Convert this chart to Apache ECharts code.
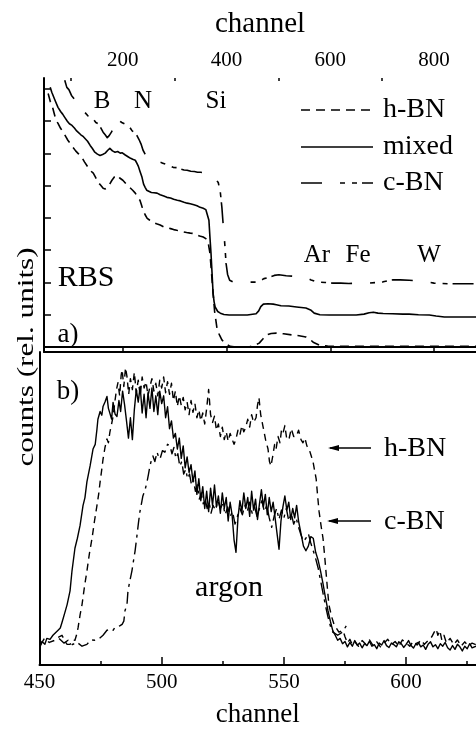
<!DOCTYPE html>
<html>
<head>
<meta charset="utf-8">
<script src="https://cdn.jsdelivr.net/npm/echarts@6/dist/echarts.min.js"></script>
<style>
  html, body { margin: 0; padding: 0; background: #fff; }
  #chart { width: 476px; height: 729px; }
</style>
</head>
<body>
<div id="chart"></div>
<script>
// ---- (a) RBS spectra: [channel, counts in rel. units] ----
const rbsHBN = [[56,7.86],[60,7.62],[65,7.40],[70,7.10],[75,6.93],[80,6.78],[85,6.66],[90,6.52],[94,6.41],[99,6.30],[104,6.19],[109,6.08],[115,5.98],[121,5.88],[126,5.74],[133,5.57],[138,5.46],[143,5.39],[148,5.24],[152,5.11],[157,5.02],[162,4.92],[166,4.90],[170,4.95],[175,5.06],[179,5.17],[184,5.28],[189,5.33],[194,5.24],[200,5.17],[206,5.06],[211,4.98],[214,4.95],[219,4.86],[224,4.77],[228,4.66],[233,4.55],[236,4.40],[239,4.24],[243,4.10],[247,3.99],[252,3.93],[258,3.87],[265,3.82],[272,3.78],[279,3.72],[285,3.70],[292,3.67],[298,3.64],[304,3.62],[311,3.60],[317,3.57],[323,3.55],[330,3.53],[336,3.52],[342,3.48],[348,3.44],[355,3.41],[360,3.36],[364,3.31],[366,3.10],[368,2.91],[371,2.30],[374,1.67],[377,1.10],[382,0.53],[387,0.35],[391,0.22],[398,0.10],[407,0.02],[418,0.00],[443,0.00],[452,0.04],[463,0.12],[470,0.25],[476,0.37],[486,0.42],[496,0.43],[510,0.41],[528,0.37],[540,0.35],[553,0.31],[560,0.25],[567,0.15],[579,0.06],[595,0.03],[611,0.02],[650,0.02],[700,0.02],[750,0.02],[800,0.02],[881,0.02]];
const rbsMixed = [[60,8.05],[63,7.90],[65,7.86],[70,7.62],[75,7.43],[80,7.30],[84,7.22],[88,7.12],[93,7.00],[97,6.92],[102,6.87],[107,6.78],[111,6.70],[114,6.66],[119,6.58],[124,6.52],[127,6.47],[132,6.38],[137,6.25],[141,6.16],[146,6.04],[151,5.98],[156,5.94],[161,5.97],[166,6.01],[171,6.10],[175,6.16],[180,6.08],[185,6.04],[190,6.06],[195,6.01],[199,6.02],[204,5.96],[210,5.90],[215,5.85],[219,5.82],[224,5.79],[227,5.70],[230,5.60],[233,5.45],[237,5.26],[240,5.05],[243,4.95],[246,4.86],[249,4.80],[255,4.79],[260,4.78],[266,4.77],[272,4.72],[279,4.68],[285,4.64],[292,4.62],[298,4.58],[305,4.55],[311,4.53],[318,4.49],[324,4.46],[330,4.44],[337,4.41],[343,4.38],[349,4.33],[355,4.30],[360,4.26],[363,4.22],[366,3.93],[368,3.40],[370,2.91],[372,2.30],[374,1.67],[376,1.40],[378,1.24],[383,1.10],[388,1.05],[395,1.01],[405,0.99],[418,0.99],[440,0.99],[457,1.03],[462,1.12],[466,1.25],[471,1.33],[480,1.34],[490,1.33],[496,1.31],[505,1.28],[520,1.27],[535,1.24],[553,1.21],[562,1.15],[569,1.05],[580,1.00],[598,0.99],[620,0.99],[650,0.99],[665,1.02],[675,1.06],[683,1.08],[692,1.05],[702,1.04],[720,1.03],[740,1.02],[752,1.02],[770,1.00],[791,0.99],[804,0.96],[820,0.93],[850,0.93],[881,0.93]];
const rbsCBN = [[88,8.27],[92,8.05],[96,7.98],[101,7.80],[106,7.70],[110,7.62],[114,7.50],[118,7.42],[123,7.30],[128,7.25],[133,7.16],[138,7.12],[143,7.07],[148,6.96],[153,6.92],[158,6.78],[162,6.66],[166,6.58],[170,6.49],[174,6.56],[178,6.66],[182,6.80],[186,7.00],[189,7.10],[193,7.02],[198,6.96],[203,6.92],[208,6.88],[213,6.82],[218,6.70],[222,6.66],[227,6.56],[231,6.44],[235,6.30],[239,6.10],[243,5.98],[247,5.88],[252,5.84],[258,5.80],[264,5.76],[270,5.74],[277,5.70],[284,5.66],[290,5.62],[297,5.57],[304,5.56],[311,5.52],[318,5.49],[324,5.48],[331,5.45],[338,5.44],[344,5.42],[350,5.42],[356,5.40],[362,5.39],[367,5.36],[372,5.30],[376,5.26],[380,5.18],[384,5.10],[388,4.80],[391,4.33],[393,3.90],[395,3.53],[397,3.10],[399,2.60],[402,2.25],[406,2.07],[412,2.02],[418,2.01],[440,2.01],[457,2.01],[465,2.05],[472,2.12],[482,2.16],[492,2.22],[501,2.24],[515,2.21],[534,2.19],[545,2.18],[553,2.16],[563,2.08],[573,2.02],[590,2.00],[605,1.98],[620,1.98],[636,1.97],[655,1.98],[675,1.98],[690,2.00],[702,2.02],[712,2.06],[721,2.08],[735,2.08],[752,2.07],[770,2.05],[785,2.02],[800,1.98],[829,1.96],[850,1.96],[881,1.96]];

// ---- (b) argon signal: [channel, counts in rel. units] ----
const argonHBN = [[450.5,6.5],[452,8.5],[454,7.2],[456.3,7.9],[458,9.0],[459.2,9.5],[460.5,7.5],[461.3,6.6],[462.5,6.6],[463.5,8.0],[464.5,7.9],[465.3,10.0],[465.8,12.0],[466.6,16.0],[467.4,19.3],[468.4,25.0],[469.4,30.0],[470.4,35.5],[471.5,40.5],[472.5,46.0],[473.5,50.9],[474.2,54.5],[474.8,58.5],[475.4,62.0],[476,65.8],[476.8,69.5],[477.6,72.2],[478.2,71.0],[478.8,74.4],[479.5,77.0],[480.1,79.4],[480.9,84.5],[481.5,88.0],[482.1,90.2],[482.8,86.0],[483.4,92.5],[483.8,94.3],[484.5,89.0],[485.2,95.0],[485.8,92.1],[486.5,86.5],[487.2,91.5],[488,88.0],[488.8,93.5],[489.6,87.0],[490.4,91.0],[491.2,86.0],[492,92.0],[492.8,88.5],[493.6,90.5],[494.4,86.0],[495.2,89.0],[496,91.5],[496.8,87.5],[497.6,90.0],[498.4,86.0],[499.2,91.0],[500,88.5],[500.8,92.0],[501.6,87.0],[502.4,90.5],[503.2,86.5],[504,90.0],[504.8,84.5],[505.6,87.5],[506.4,82.6],[507.2,86.0],[508,83.0],[508.8,85.5],[509.6,81.5],[510.4,84.0],[511.2,80.0],[512,84.5],[512.8,80.7],[513.6,83.5],[514.4,79.0],[515.2,81.5],[516,78.0],[516.8,80.5],[517.6,77.0],[518.4,82.0],[519.2,88.0],[520,80.0],[520.8,77.5],[521.6,79.5],[522.4,75.0],[523.2,77.0],[524,73.0],[524.8,76.0],[525.6,72.0],[526.4,74.5],[527.2,71.5],[528,74.0],[528.8,72.2],[529.6,70.5],[530.4,72.2],[531.2,75.0],[532,73.5],[532.8,76.5],[533.6,74.5],[534.4,76.0],[535.2,78.5],[536,76.0],[536.8,80.0],[537.6,77.5],[538.6,79.0],[539.2,83.0],[539.8,85.4],[540.5,80.0],[541.5,76.0],[542.5,72.0],[543.5,69.0],[544.1,65.0],[544.7,63.6],[545.5,67.0],[546.2,70.5],[546.8,69.0],[547.6,73.0],[548.4,71.0],[549,75.0],[549.6,74.0],[550.4,76.5],[551.2,72.0],[552.1,72.2],[553,75.5],[554,73.0],[555,73.0],[556,75.0],[557,72.0],[557.8,71.0],[558.6,72.5],[559.4,70.0],[560.3,69.0],[561.1,67.0],[561.9,65.0],[562.6,62.0],[563.2,59.5],[563.8,54.0],[564.4,49.0],[565.2,44.5],[566,40.5],[566.6,35.5],[567.2,30.0],[567.8,24.5],[568.4,19.3],[569.5,15.5],[570.5,13.0],[571.3,12.0],[572.5,10.5],[574.2,11.0],[575,9.0],[576,7.0],[577,8.2],[578,6.5],[579,7.5],[580.5,6.0],[582,7.8],[583.5,6.6],[585,8.0],[586.5,6.2],[588,7.4],[589.5,5.8],[591,7.0],[592.5,8.2],[594,6.5],[595.5,7.5],[597,6.0],[598.5,8.0],[600,7.0],[601.5,6.0],[603,7.6],[604.5,6.4],[606,8.0],[607.5,6.6],[609,7.8],[610.5,9.0],[611.5,10.5],[612.3,11.5],[613,9.5],[613.8,11.0],[614.6,8.0],[615.5,9.5],[616.5,7.0],[618,8.5],[619.5,6.5],[621,8.0],[622.5,6.0],[624,7.4],[625.5,6.0],[627,7.0],[628.6,6.5]];
const argonCBN = [[450.2,5.7],[451,7.5],[452.2,6.6],[453,8.5],[454.3,8.2],[455.5,9.5],[456.3,9.8],[457.6,11.1],[458.5,11.8],[459.2,13.6],[460.4,16.8],[461.3,19.3],[462.5,23.7],[463.3,30.1],[464.5,37.3],[465.5,40.5],[466.6,44.6],[467.8,50.9],[468.6,53.5],[469.4,58.5],[470.7,63.6],[471.9,69.0],[472.8,70.5],[473.5,75.3],[473.9,78.5],[474.8,81.0],[475.5,79.8],[476,82.6],[476.8,84.0],[477.6,85.8],[478.2,82.0],[478.8,82.6],[479.5,78.6],[480.1,83.9],[480.9,80.2],[481.7,79.4],[482.5,84.5],[483.2,81.0],[484,87.5],[484.8,83.2],[485.6,78.0],[486.4,72.5],[487.2,79.0],[488,72.0],[488.8,81.5],[489.6,88.0],[490.4,84.0],[491.2,89.0],[492,80.5],[492.8,86.5],[493.6,79.0],[494.4,87.0],[495.2,82.0],[496,88.5],[496.8,81.0],[497.6,86.0],[498.4,80.0],[499.2,87.5],[500,83.5],[500.8,86.0],[501.6,79.0],[502.4,82.5],[503.2,75.5],[504,78.0],[504.8,72.5],[505.6,74.0],[506.4,69.0],[507.2,72.5],[508,66.0],[508.8,70.0],[509.6,63.0],[510.4,66.5],[511.2,61.5],[512,64.0],[512.8,58.5],[513.6,62.0],[514.4,54.5],[515.2,59.5],[516,52.5],[516.8,57.0],[517.6,50.0],[518.4,55.5],[519.2,49.0],[520,56.5],[520.8,51.0],[521.6,57.5],[522.4,50.5],[523.2,54.0],[524,48.5],[524.8,55.0],[525.6,50.0],[526.4,53.5],[527.2,46.0],[528,52.0],[528.8,48.0],[529.6,40.0],[530.4,36.0],[531.2,47.0],[532,52.5],[532.8,49.0],[533.6,55.0],[534.4,50.0],[535.2,53.5],[536,47.5],[536.8,55.5],[537.6,49.5],[538.4,53.0],[539.2,46.5],[540,51.5],[540.8,56.0],[541.6,50.5],[542.4,54.5],[543.2,48.0],[544,53.5],[544.8,49.0],[545.6,52.0],[546.4,47.0],[547.2,42.0],[548,37.0],[548.8,46.0],[549.6,50.5],[550.4,54.0],[551.2,49.5],[552,52.0],[552.8,46.5],[553.6,50.0],[554.4,47.0],[555.2,51.0],[556,46.0],[557,42.0],[558,38.0],[559,36.5],[560,38.0],[561,41.0],[562,40.5],[563,36.0],[564,33.5],[565,30.0],[566,26.0],[567,21.5],[568,17.5],[569,14.0],[570,11.0],[571,9.5],[572,7.9],[573,8.5],[574,6.8],[575,7.5],[576,5.8],[577,7.2],[578,6.0],[579,7.8],[580,6.3],[581,7.0],[582,5.5],[583,6.8],[584,6.2],[585,7.6],[586,6.0],[587,6.5],[588,5.2],[589,7.0],[590,6.4],[591,7.8],[592,6.2],[593,5.6],[594,7.0],[595,6.5],[596,5.8],[597,7.4],[598,6.8],[599,5.6],[600,6.6],[601,7.8],[602,6.2],[603,5.4],[604,6.8],[605,7.2],[606,5.8],[607,6.4],[608,5.0],[609,6.6],[610,7.4],[611,5.8],[612,6.5],[613,5.2],[614,6.8],[615,6.0],[616,7.2],[617,5.5],[618,4.8],[619,6.2],[620,5.0],[621,6.6],[622,5.8],[623,4.5],[624,6.0],[625,5.2],[626,6.8],[627,5.5],[628.6,6.0]];
const argonMixed = [[458,8.5],[460,7.0],[461.7,7.9],[463.5,6.5],[465.3,7.3],[467.4,6.0],[469.4,6.6],[471,8.0],[472.7,7.9],[474.5,8.5],[476,9.5],[477.6,11.1],[478.8,11.5],[480.1,11.1],[480.9,12.0],[481.7,12.0],[482.8,12.5],[483.8,13.0],[484.5,14.0],[485,17.4],[485.8,19.3],[486.2,23.7],[487,27.0],[487.8,30.0],[488.5,33.5],[489.1,36.4],[489.9,41.5],[490.5,45.5],[491.1,49.0],[491.7,51.5],[492.3,54.0],[493.2,56.0],[494,58.5],[494.6,61.0],[495.2,63.6],[495.8,65.5],[496.4,66.8],[497.2,65.0],[498.1,68.0],[498.7,66.5],[499.3,65.8],[500.3,68.5],[501.3,68.0],[502.4,70.5],[503.4,70.0],[504.2,67.5],[505,69.5],[505.8,66.0],[506.6,67.5],[507.4,63.5],[508.2,65.0],[509,61.0],[509.8,62.5],[510.6,59.5],[511.4,61.0],[512.2,57.5],[513,59.0],[513.8,55.5],[514.6,57.5],[515.4,53.0],[516.2,55.0],[517,51.5],[517.8,53.0],[518.6,50.0],[519.4,52.0],[520.2,48.5],[521,51.0],[522,49.5],[523,52.5],[524,50.0],[525,51.5],[526,48.0],[527,50.5],[528,47.5],[529,49.0],[530,45.0],[531,47.5],[532,50.0],[533,48.0],[534,51.0],[535,49.0],[536,52.0],[537,48.5],[538,50.5],[539,47.5],[540,50.0],[541,52.5],[542,49.0],[543,51.0],[544,47.0],[545,44.0],[546,47.5],[547,50.0],[548,46.5],[549,49.5],[550,47.0],[551,50.0],[552,46.0],[553,48.5],[554,45.0],[555,47.0],[556,44.0],[557,41.5],[558,39.5],[559,40.5],[560,42.0],[561,39.0],[562,36.5],[563,34.0],[564,31.0],[565,27.0],[566,23.0],[567,19.0],[568,15.5],[569,12.5],[570,10.5],[571,10.0],[572,9.5],[574,10.5],[575.5,12.5]];

// ---- axis ticks ----
const topMajorTicks = [200, 400, 600, 800];
const topMinorTicks = [100, 300, 500, 700];
const rbsLevelTicks = [0, 1, 2, 3, 4, 5, 6, 7, 8];
const bottomMajorTicks = [450, 500, 550, 600];
const bottomMinorTicks = [475, 525, 575, 625];

// ---- line styles of the three samples ----
const styleHBN = [9, 6];
const styleCBN = [21, 18, 5, 7, 5, 5];
const legendNames = ['h-BN', 'mixed', 'c-BN'];
const legendDashes = [styleHBN, null, styleCBN];

const SERIF = '"Liberation Serif", "DejaVu Serif", serif';
const INK = '#000';

const chart = echarts.init(document.getElementById('chart'), null, { renderer: 'canvas' });

function lineSeries(name, data, xi, yi, dash, width) {
  return {
    name: name, type: 'line', data: data,
    xAxisIndex: xi, yAxisIndex: yi,
    showSymbol: false, symbol: 'none', silent: true,
    lineStyle: { color: INK, width: width, type: dash, cap: 'butt', join: 'round' },
    itemStyle: { color: INK }
  };
}

function label(text, x, y, size, extra, align) {
  return Object.assign({
    type: 'text', x: x, y: y, silent: true,
    style: { text: text, fill: INK, font: size + 'px ' + SERIF, align: align || 'center', verticalAlign: 'middle' }
  }, extra || {});
}

function arrow(y, x1, x2) {
  return [
    { type: 'line', silent: true, shape: { x1: x1, y1: y, x2: x2 + 2, y2: y }, style: { stroke: INK, lineWidth: 1.3 } },
    { type: 'polygon', silent: true, shape: { points: [[x2, y], [x2 + 11, y - 3], [x2 + 11, y + 3]] }, style: { fill: INK } }
  ];
}

// key for panel (a): sample line followed by its name
function legendKey(i, y) {
  const style = { stroke: INK, lineWidth: 1.6 };
  if (legendDashes[i]) style.lineDash = legendDashes[i];
  return [
    { type: 'line', silent: true, shape: { x1: 301, y1: y, x2: 373, y2: y }, style: style },
    label(legendNames[i], 383, y, 28, null, 'left')
  ];
}

const option = {
  animation: false,
  backgroundColor: '#fff',
  textStyle: { fontFamily: SERIF, color: INK },
  grid: [
    { left: 44, top: 78, right: 0, height: 274 },
    { left: 39.5, top: 352, right: 0, height: 316 }
  ],
  xAxis: [
    {
      gridIndex: 0, type: 'value', position: 'top', min: 48, max: 881,
      name: 'channel', nameLocation: 'middle', nameGap: 39,
      nameTextStyle: { fontSize: 29, fontFamily: SERIF, color: INK },
      axisLine: { lineStyle: { color: INK, width: 2 } },
      axisTick: { inside: true, length: 6, customValues: topMajorTicks, lineStyle: { color: INK, width: 1.5 } },
      axisLabel: { customValues: topMajorTicks, fontSize: 21, color: INK, fontFamily: SERIF, margin: 7 },
      splitLine: { show: false }
    },
    {
      gridIndex: 0, type: 'value', position: 'top', min: 48, max: 881,
      axisLine: { show: false },
      axisTick: { inside: true, length: 3, customValues: topMinorTicks, lineStyle: { color: INK, width: 1.5 } },
      axisLabel: { show: false }, splitLine: { show: false }
    },
    {
      gridIndex: 0, type: 'value', position: 'bottom', min: 48, max: 881,
      axisLine: { lineStyle: { color: INK, width: 2 } },
      axisTick: { show: false }, axisLabel: { show: false }, splitLine: { show: false }
    },
    {
      gridIndex: 1, type: 'value', position: 'bottom', min: 450, max: 628.6,
      name: 'channel', nameLocation: 'middle', nameGap: 36,
      nameTextStyle: { fontSize: 27, fontFamily: SERIF, color: INK },
      axisLine: { lineStyle: { color: INK, width: 2 } },
      axisTick: { inside: true, length: 8, customValues: bottomMajorTicks, lineStyle: { color: INK, width: 1.5 } },
      axisLabel: { customValues: bottomMajorTicks, fontSize: 21, color: INK, fontFamily: SERIF, margin: 7 },
      splitLine: { show: false }
    },
    {
      gridIndex: 1, type: 'value', position: 'bottom', min: 450, max: 628.6,
      axisLine: { show: false },
      axisTick: { inside: true, length: 4, customValues: bottomMinorTicks, lineStyle: { color: INK, width: 1.5 } },
      axisLabel: { show: false }, splitLine: { show: false }
    }
  ],
  yAxis: [
    {
      gridIndex: 0, type: 'value', min: -0.155, max: 8.34,
      axisLine: { show: true, lineStyle: { color: INK, width: 2 } },
      axisTick: { show: true, inside: true, length: 7, customValues: rbsLevelTicks, lineStyle: { color: INK, width: 1.5 } },
      axisLabel: { show: false }, splitLine: { show: false }
    },
    {
      gridIndex: 1, type: 'value', min: 0, max: 100,
      axisLine: { show: true, lineStyle: { color: INK, width: 2 } },
      axisTick: { show: false }, axisLabel: { show: false }, splitLine: { show: false }
    }
  ],
  series: [
    lineSeries('h-BN', rbsHBN, 0, 0, styleHBN, 1.6),
    lineSeries('mixed', rbsMixed, 0, 0, 'solid', 1.6),
    lineSeries('c-BN', rbsCBN, 0, 0, styleCBN, 1.6),
    lineSeries('h-BN argon', argonHBN, 3, 1, [7, 5], 1.4),
    lineSeries('c-BN argon', argonCBN, 3, 1, 'solid', 1.4),
    lineSeries('mixed argon', argonMixed, 3, 1, [12, 5, 3, 5], 1.4)
  ],
  graphic: [
    label('B', 102, 101, 25),
    label('N', 143, 101, 25),
    label('Si', 216, 101, 25),
    label('Ar', 317, 255, 25),
    label('Fe', 358, 255, 25),
    label('W', 429, 255, 25),
    label('RBS', 86, 278, 30),
    label('a)', 68, 335, 27),
    label('b)', 68, 392, 27),
    label('argon', 229, 588, 30),
    label('h-BN', 384, 449, 28, null, 'left'),
    label('c-BN', 384, 522, 28, null, 'left'),
    label('counts (rel. units)', 27, 357, 24, { rotation: Math.PI / 2, scaleX: 1.3 })
  ].concat(
    legendKey(0, 110), legendKey(1, 147), legendKey(2, 183),
    arrow(448, 371, 328), arrow(521, 371, 327)
  )
};

chart.setOption(option);
</script>
</body>
</html>
